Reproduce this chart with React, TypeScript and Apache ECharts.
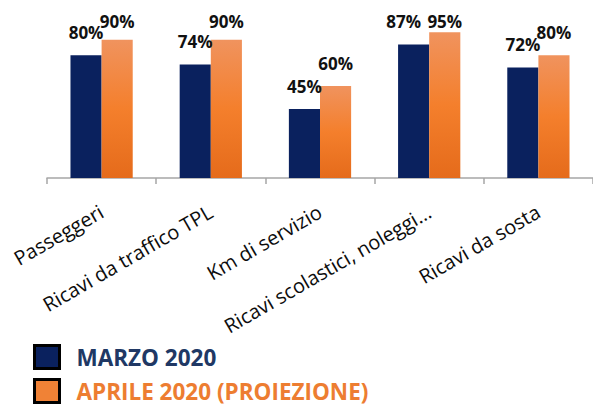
import React, { useEffect, useRef } from "react";
import * as echarts from "echarts";

const categories = [
  "Passeggeri",
  "Ricavi da traffico TPL",
  "Km di servizio",
  "Ricavi scolastici, noleggi…",
  "Ricavi da sosta",
];
const marzo2020 = [80, 74, 45, 87, 72];
const aprile2020 = [90, 90, 60, 95, 80];
const seriesNames = ["MARZO 2020", "APRILE 2020 (PROIEZIONE)"];

const FONT = "'Open Sans', 'Noto Sans', sans-serif";
const PLOT_TOP = 24.5;
const PLOT_H = 153.5;
const Y_MAX = 100;
const LABEL_MIN_CENTER = 21.7; // labels cannot rise above this y

function labelFor(v: number, baseDist: number, dx: number) {
  const barTop = PLOT_TOP + PLOT_H * (1 - v / Y_MAX);
  const fs = 17;
  let dist = baseDist;
  const center = barTop - dist - fs / 2;
  if (center < LABEL_MIN_CENTER) dist = barTop - fs / 2 - LABEL_MIN_CENTER;
  return { distance: dist, offset: [dx, 0] };
}

export default function App() {
  const ref = useRef<HTMLDivElement>(null);
  useEffect(() => {
    if (!ref.current) return;
    const chart = echarts.init(ref.current, null, { renderer: "svg" });
    const orangeGrad = new echarts.graphic.LinearGradient(0, 0, 0, 1, [
      { offset: 0, color: "#F0935E" },
      { offset: 0.5, color: "#F47F2C" },
      { offset: 1, color: "#E56B1B" },
    ]);
    const labelBase = {
      show: true,
      position: "top" as const,
      fontFamily: FONT,
      fontSize: 17,
      fontWeight: "bold" as const,
      color: "#111",
      formatter: "{c}%",
    };
    const legendCommon = {
      orient: "horizontal" as const,
      left: 33,
      padding: 0,
      itemWidth: 25,
      itemHeight: 23,
      icon: "rect",
    };
    chart.setOption({
      animation: false,
      grid: { left: 47, top: PLOT_TOP, width: 550, height: PLOT_H, containLabel: false },
      legend: [
        {
          ...legendCommon,
          top: 344,
          textStyle: { fontFamily: FONT, fontSize: 22.5, lineHeight: 22, fontWeight: "bold", color: "#203864", padding: [0, 0, 0, 12] },
          data: [
            {
              name: seriesNames[0],
              itemStyle: { color: "#0A215E", borderColor: "#000", borderWidth: 3 },
            },
          ],
        },
        {
          ...legendCommon,
          top: 378,
          textStyle: { fontFamily: FONT, fontSize: 22.5, lineHeight: 22, fontWeight: "bold", color: "#ED7D31", padding: [0, 0, 0, 12] },
          data: [
            {
              name: seriesNames[1],
              itemStyle: { color: "#F08236", borderColor: "#000", borderWidth: 3 },
            },
          ],
        },
      ],
      xAxis: {
        type: "category",
        data: categories,
        axisLine: { lineStyle: { color: "#A6A6A6", width: 1.5 } },
        axisTick: { show: true, length: 6, lineStyle: { color: "#A6A6A6", width: 1.5 } },
        axisLabel: {
          rotate: 30,
          margin: 32,
          fontFamily: FONT,
          fontSize: 20,
          color: "#0D0D0D",
          interval: 0,
        },
      },
      yAxis: { type: "value", min: 0, max: Y_MAX, show: false, splitLine: { show: false } },
      series: [
        {
          name: seriesNames[0],
          type: "bar",
          barGap: "0%",
          barCategoryGap: "43%",
          itemStyle: { color: "#0A215E" },
          data: marzo2020.map((v, i) => ({
            value: v,
            label: { ...labelBase, ...labelFor(v, 14, i === 3 ? -10 : 0) },
          })),
        },
        {
          name: seriesNames[1],
          type: "bar",
          itemStyle: { color: orangeGrad },
          data: aprile2020.map((v) => ({
            value: v,
            label: { ...labelBase, ...labelFor(v, 14, 0) },
          })),
        },
      ],
    });
    return () => chart.dispose();
  }, []);
  return <div ref={ref} style={{ width: 593, height: 407, position: "absolute", left: 0, top: 0 }} />;
}
